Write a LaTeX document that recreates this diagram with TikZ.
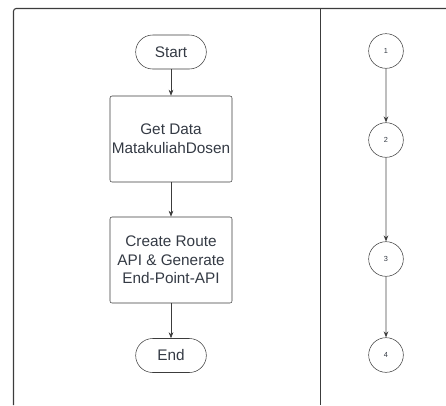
\documentclass[tikz,border=0pt]{standalone}
\usepackage{fontspec}
\setmainfont{Liberation Sans}
\usetikzlibrary{arrows.meta}
\definecolor{linegray}{RGB}{60,60,60}
\definecolor{textgray}{RGB}{52,58,68}
\definecolor{lightline}{RGB}{190,190,190}
\tikzset{
    terminal/.style={draw=linegray,rounded corners=12.75pt,minimum width=53pt,minimum height=25.5pt,inner sep=0pt,text=textgray,font=\fontsize{11.5}{13.5}\selectfont},
    process/.style={draw=linegray,rounded corners=1.5pt,minimum width=91.5pt,minimum height=64.5pt,inner sep=0pt,align=center,text=textgray,font=\fontsize{11.5}{14}\selectfont},
    marker/.style={draw=linegray,circle,minimum size=26pt,inner sep=0pt,text=textgray,font=\fontsize{5.5}{6}\selectfont},
    flow/.style={draw=linegray,line width=0.5pt,-{Stealth[length=4.5pt,width=3.5pt]}},
    track/.style={draw=lightline,line width=0.9pt,-{Stealth[length=4.5pt,width=3.5pt,color=linegray]}}
}
\begin{document}
\begin{tikzpicture}[x=0.75pt,y=0.75pt,yscale=-1,xscale=1]
\useasboundingbox (0,0) rectangle (446,405);

%Frame
\draw [linegray,line width=0.8pt,rounded corners=2pt] (13.5,405) -- (13.5,8.5) -- (446,8.5) ;
\draw [linegray,line width=0.8pt] (320.5,8.5) -- (320.5,405) ;

%Flow chart
\node [terminal] (start) at (171,52) {Start};
\node [process] (getdata) at (171,139) {Get Data\\MatakuliahDosen};
\node [process] (route) at (171,260) {Create Route\\API \& Generate\\End-Point-API};
\node [terminal] (end) at (171,355.5) {End};

\draw [flow] (start) -- (getdata) ;
\draw [flow] (getdata) -- (route) ;
\draw [flow] (route) -- (end) ;

%Markers
\node [marker] (m1) at (386,51) {1};
\node [marker] (m2) at (386,140) {2};
\node [marker] (m3) at (386,259) {3};
\node [marker] (m4) at (386,355) {4};

\draw [track] (m1) -- (m2) ;
\draw [track] (m2) -- (m3) ;
\draw [track] (m3) -- (m4) ;

\end{tikzpicture}
\end{document}
